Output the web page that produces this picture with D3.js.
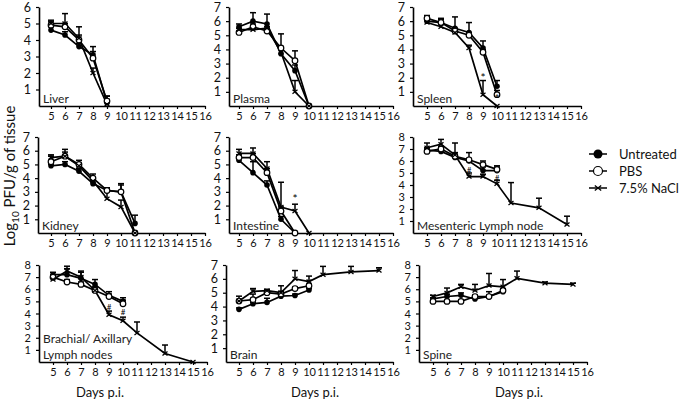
<!DOCTYPE html>
<html><head><meta charset="utf-8">
<script src="https://cdn.jsdelivr.net/npm/d3@7"></script>
<style>body{margin:0;background:#fff}svg{display:block}</style>
</head><body><svg id="c" width="683" height="404"></svg>
<script>
// ---- data ----
const sampleDays = [5, 6, 7, 8, 9, 10, 11, 13, 15];
const dayTicks = [5, 6, 7, 8, 9, 10, 11, 12, 13, 14, 15, 16];
const seriesNames = ["Untreated", "PBS", "7.5% NaCl"];
const _ = null;

const liverUntreated = [4.6, 4.3, 3.6, 3.1, 0.2, _, _, _, _];
const liverPBS       = [4.9, 4.8, 4.0, 2.9, 0.3, _, _, _, _];
const liverNaCl      = [5.0, 5.0, 4.1, 2.0, 0.1, _, _, _, _];
const liverErrU = [0.2, 0.2, 0.2, 0.5, 0.2, _, _, _, _];
const liverErrP = [0.2, 0.2, 0.3, 0.4, 0.3, _, _, _, _];
const liverErrN = [0.2, 0.6, 0.7, 0.3, 0.5, _, _, _, _];

const plasmaUntreated = [5.6, 6.0, 5.8, 3.7, 2.5, 0, _, _, _];
const plasmaPBS       = [5.2, 5.6, 5.3, 4.1, 3.2, 0, _, _, _];
const plasmaNaCl      = [5.4, 5.4, 5.5, 3.8, 1.0, 0, _, _, _];
const plasmaErrU = [0.2, 0.6, 0.7, 0.4, 0.4, 0, _, _, _];
const plasmaErrP = [0.1, 0.2, 0.2, 1.0, 0.7, 0, _, _, _];
const plasmaErrN = [0.1, 0.1, 0.1, 0.3, 0.8, 0, _, _, _];

const spleenUntreated = [6.0, 5.9, 5.5, 5.2, 4.1, 1.4, _, _, _];
const spleenPBS       = [6.2, 5.9, 5.3, 5.0, 3.8, 0.8, _, _, _];
const spleenNaCl      = [5.9, 5.6, 5.2, 4.1, 0.8, 0, _, _, _];
const spleenErrU = [0.3, 0.3, 0.8, 0.7, 0.5, 0.4, _, _, _];
const spleenErrP = [0.2, 0.2, 0.2, 0.2, 0.2, 0.3, _, _, _];
const spleenErrN = [0.2, 0.2, 0.2, 0.2, 1.0, 0, _, _, _];

const kidneyUntreated = [4.9, 5.0, 4.5, 3.6, 3.1, 3.0, 0.7, _, _];
const kidneyPBS       = [5.2, 5.6, 5.0, 4.0, 3.1, 3.0, 0, _, _];
const kidneyNaCl      = [5.5, 5.6, 4.9, 3.8, 2.5, 1.9, 0, _, _];
const kidneyErrU = [0.1, 0.2, 0.2, 0.2, 0.2, 0.5, 0.6, _, _];
const kidneyErrP = [0.5, 0.5, 0.3, 0.3, 0.1, 0.6, 0, _, _];
const kidneyErrN = [0.1, 0.3, 0.2, 0.2, 0.6, 0.5, 0, _, _];

const intestineUntreated = [5.3, 4.4, 3.5, 1.0, 0, _, _, _, _];
const intestinePBS       = [5.5, 5.5, 4.4, 1.6, 0, _, _, _, _];
const intestineNaCl      = [5.8, 5.8, 4.7, 1.9, 1.6, 0, _, _, _];
const intestineErrU = [0.2, 0.8, 0.3, 0.2, 0, _, _, _, _];
const intestineErrP = [0.2, 0.3, 0.3, 0.3, 0, _, _, _, _];
const intestineErrN = [0.3, 0.4, 0.5, 1.8, 0.5, 0, _, _, _];

const mesentericUntreated = [6.9, 6.8, 6.3, 6.0, 5.2, 5.2, _, _, _];
const mesentericPBS       = [6.8, 7.0, 6.4, 6.1, 5.7, 5.3, _, _, _];
const mesentericNaCl      = [7.1, 7.4, 6.5, 4.7, 4.7, 4.1, 2.5, 2.1, 0.7];
const mesentericErrU = [0.2, 0.2, 0.2, 0.2, 0.3, 0.3, _, _, _];
const mesentericErrP = [0.2, 0.2, 0.3, 0.6, 0.3, 0.3, _, _, _];
const mesentericErrN = [0.4, 0.4, 1.0, 0.3, 0.2, 0.3, 1.7, 0.8, 0.7];

const brachialUntreated = [7.2, 7.2, 6.9, 6.4, 5.5, 5.0, _, _, _];
const brachialPBS       = [7.0, 6.6, 6.4, 5.9, 5.4, 4.8, _, _, _];
const brachialNaCl      = [6.8, 7.5, 7.0, 5.9, 3.9, 3.4, 2.4, 0.7, 0];
const brachialErrU = [0.2, 0.5, 0.5, 0.4, 0.3, 0.3, _, _, _];
const brachialErrP = [0.2, 0.2, 0.2, 0.2, 0.2, 0.3, _, _, _];
const brachialErrN = [0.4, 0.4, 0.5, 0.3, 0.3, 0.3, 0.9, 0.7, 0];

const brainUntreated = [3.8, 4.2, 4.3, 4.75, 4.8, 5.2, _, _, _];
const brainPBS       = [4.4, 4.5, 5.0, 4.9, 5.3, 5.5, _, _, _];
const brainNaCl      = [4.4, 5.1, 5.15, 5.0, 6.0, 5.8, 6.3, 6.5, 6.6];
const brainErrU = [0.1, 0.1, 0.3, 0.1, 0.1, 0.1, _, _, _];
const brainErrP = [0.1, 0.4, 0.2, 0.2, 0.1, 0.1, _, _, _];
const brainErrN = [0.35, 0.2, 0.1, 0.5, 0.6, 0.4, 0.6, 0.4, 0.2];

const spineUntreated = [5.2, 5.4, 5.5, 5.2, 5.4, 5.8, _, _, _];
const spinePBS       = [5.0, 5.0, 5.0, 5.4, 5.4, 5.9, _, _, _];
const spineNaCl      = [5.4, 5.7, 6.2, 5.9, 6.3, 6.2, 6.9, 6.5, 6.4];
const spineErrU = [0.1, 0.2, 0.2, 0.3, 0.4, 0.2, _, _, _];
const spineErrP = [0.1, 0.1, 0.1, 0.1, 0.1, 0.1, _, _, _];
const spineErrN = [0.1, 0.4, 0.2, 0.5, 1.0, 0.6, 0.6, 0.1, 0.1];

const panelTitles = ["Liver", "Plasma", "Spleen", "Kidney", "Intestine", "Mesenteric Lymph node",
  "Brachial/ Axillary\nLymph nodes", "Brain", "Spine"];
const panelYMax = [6, 7, 7, 7, 7, 8, 8, 7, 8];
// significance marks: [panel index, day, value, symbol]
const marks = [[2, 9, 2.0, "*"], [2, 10, 0.5, "*"], [4, 9, 2.5, "*"],
  [5, 8, 5.3, "#"], [5, 10, 4.7, "#"], [6, 9, 4.6, "#"], [6, 10, 4.2, "#"]];

const panelValues = [
  [liverUntreated, liverPBS, liverNaCl], [plasmaUntreated, plasmaPBS, plasmaNaCl],
  [spleenUntreated, spleenPBS, spleenNaCl], [kidneyUntreated, kidneyPBS, kidneyNaCl],
  [intestineUntreated, intestinePBS, intestineNaCl], [mesentericUntreated, mesentericPBS, mesentericNaCl],
  [brachialUntreated, brachialPBS, brachialNaCl], [brainUntreated, brainPBS, brainNaCl],
  [spineUntreated, spinePBS, spineNaCl]];
const panelErrors = [
  [liverErrU, liverErrP, liverErrN], [plasmaErrU, plasmaErrP, plasmaErrN],
  [spleenErrU, spleenErrP, spleenErrN], [kidneyErrU, kidneyErrP, kidneyErrN],
  [intestineErrU, intestineErrP, intestineErrN], [mesentericErrU, mesentericErrP, mesentericErrN],
  [brachialErrU, brachialErrP, brachialErrN], [brainErrU, brainErrP, brainErrN],
  [spineErrU, spineErrP, spineErrN]];

// ---- layout ----
const rowBase = [106, 233, 362];
const rowTop = [7, 137, 265];
const axisXs = [39, 229, 413, 38, 229, 413, 39, 226, 419];
const firstTickXs = [51, 239, 427, 51, 239, 427, 53, 239, 433];
const step = 14;
const FONT = "Lato, 'Open Sans', sans-serif";

const svg = d3.select("#c");
svg.append("rect").attr("width", 683).attr("height", 404).attr("fill", "#fff");

function marker(g, kind, cx, cy, r) {
  if (kind === 0) {
    g.append("circle").attr("cx", cx).attr("cy", cy).attr("r", r).attr("fill", "#000");
  } else if (kind === 1) {
    g.append("circle").attr("cx", cx).attr("cy", cy).attr("r", r).attr("fill", "#fff")
      .attr("stroke", "#000").attr("stroke-width", 1.2);
  } else {
    g.append("path").attr("d", `M${cx - r},${cy - r * 0.8}L${cx + r},${cy + r * 0.8}M${cx - r},${cy + r * 0.8}L${cx + r},${cy - r * 0.8}`)
      .attr("stroke", "#000").attr("stroke-width", 1.3);
  }
}

panelTitles.forEach((title, pi) => {
  const row = Math.floor(pi / 3);
  const base = rowBase[row], top = rowTop[row];
  const ax = axisXs[pi], x5 = firstTickXs[pi];
  const xStart = 5 - (x5 - ax) / step;
  const x = d3.scaleLinear().domain([xStart, 16]).range([ax, x5 + 11 * step]);
  const y = d3.scaleLinear().domain([0, panelYMax[pi]]).range([base, top]);
  const g = svg.append("g");

  const xa = g.append("g").attr("transform", `translate(0,${base})`)
    .call(d3.axisBottom(x).tickValues(dayTicks).tickFormat(d3.format("d"))
      .tickSize(3).tickSizeOuter(0).tickPadding(3));
  const ya = g.append("g").attr("transform", `translate(${ax},0)`)
    .call(d3.axisLeft(y).tickValues(d3.range(1, panelYMax[pi] + 1)).tickFormat(d3.format("d"))
      .tickSize(3).tickSizeOuter(0).tickPadding(5));
  [xa, ya].forEach(a => {
    a.select(".domain").attr("stroke", "#000").attr("stroke-width", 1.6);
    a.selectAll(".tick line").attr("stroke", "#000").attr("stroke-width", 1.2);
    a.selectAll("text").attr("font-family", FONT).attr("fill", "#111");
  });
  xa.selectAll("text").attr("font-size", 11);
  ya.selectAll("text").attr("font-size", panelYMax[pi] >= 8 ? 11 : 12.5);

  // title
  const lines = title.split("\n");
  lines.forEach((t, li) => {
    g.append("text").attr("x", ax + 4).attr("y", base - 3 - (lines.length - 1 - li) * 16)
      .attr("font-family", FONT).attr("font-size", 12).attr("fill", "#222").text(t);
  });

  const line = d3.line().x(d => x(d.d)).y(d => y(d.v));
  const seriesPts = panelValues[pi].map((vals, si) =>
    sampleDays.map((d, i) => ({ d, v: vals[i], e: panelErrors[pi][si][i] })).filter(p => p.v !== null));

  seriesPts.forEach(pts => {
    g.append("path").attr("d", line(pts)).attr("fill", "none").attr("stroke", "#000").attr("stroke-width", 1.7);
    pts.forEach(p => {
      if (p.e && p.e > 0) {
        const xx = x(p.d), y0 = y(p.v), y1 = y(p.v + p.e);
        g.append("line").attr("x1", xx).attr("x2", xx).attr("y1", y0).attr("y2", y1)
          .attr("stroke", "#000").attr("stroke-width", 1.5);
        g.append("line").attr("x1", xx - 3).attr("x2", xx + 3).attr("y1", y1).attr("y2", y1)
          .attr("stroke", "#000").attr("stroke-width", 1.5);
      }
    });
  });
  seriesPts.forEach((pts, si) => {
    pts.forEach(p => marker(g, si, x(p.d), y(p.v), si === 2 ? 2.5 : 2.8));
  });

  marks.filter(m => m[0] === pi).forEach(m => {
    g.append("text").attr("x", x(m[1])).attr("y", y(m[2]) + 4).attr("text-anchor", "middle")
      .attr("font-family", FONT).attr("font-size", m[3] === "*" ? 12 : 8).attr("fill", "#000").text(m[3]);
  });
});

// y axis title
const yt = svg.append("text").attr("transform", "translate(15,176) rotate(-90)")
  .attr("text-anchor", "middle").attr("font-family", FONT).attr("font-size", 15).attr("fill", "#111");
yt.append("tspan").text("Log");
yt.append("tspan").attr("font-size", 10).attr("dy", 4).text("10");
yt.append("tspan").attr("dy", -4).text(" PFU/g of tissue");

// x axis titles
[100, 315, 519].forEach(cx => {
  svg.append("text").attr("x", cx).attr("y", 397).attr("text-anchor", "middle")
    .attr("font-family", FONT).attr("font-size", 13).attr("fill", "#111").text("Days p.i.");
});

// legend
const legY = [154, 171, 188];
seriesNames.forEach((n, i) => {
  const lg = svg.append("g");
  lg.append("line").attr("x1", 589).attr("x2", 607).attr("y1", legY[i]).attr("y2", legY[i])
    .attr("stroke", "#000").attr("stroke-width", 1.5);
  marker(lg, i, 598, legY[i], i === 2 ? 3.2 : 4.5);
  lg.append("text").attr("x", 619).attr("y", legY[i] + 4.5).attr("font-family", FONT)
    .attr("font-size", 13).attr("fill", "#111").text(n);
});
</script></body></html>
